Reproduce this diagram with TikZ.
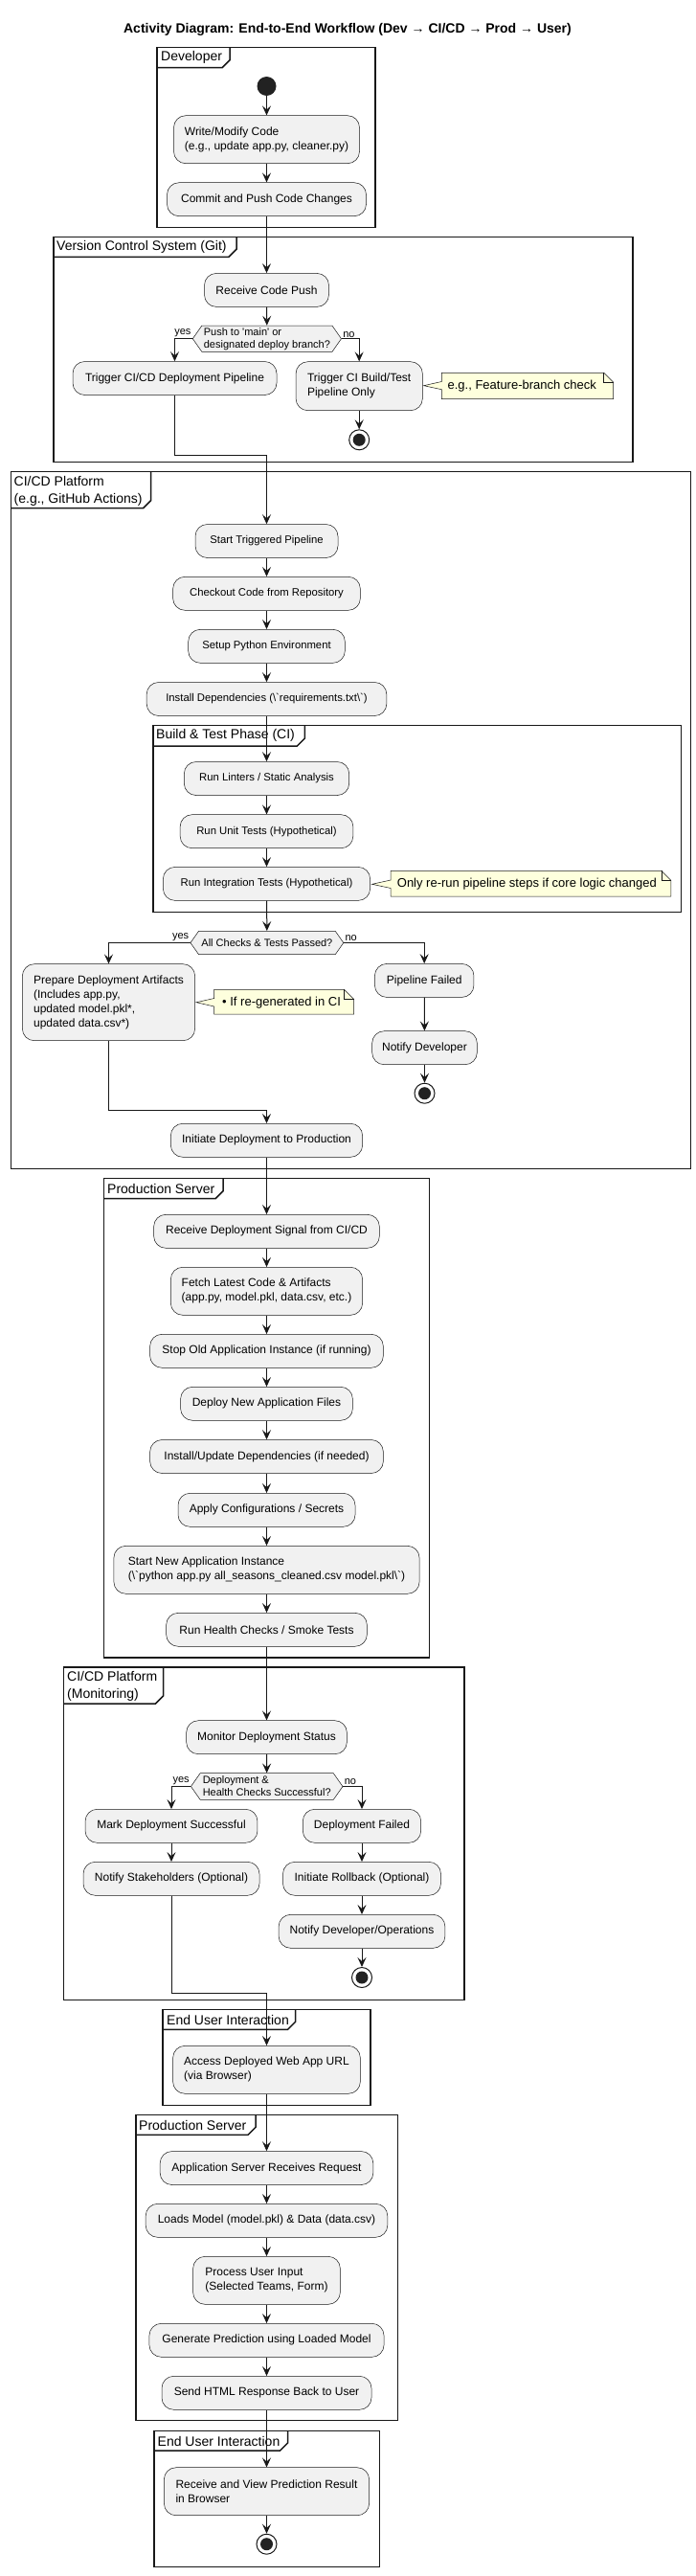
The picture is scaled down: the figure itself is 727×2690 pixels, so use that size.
\documentclass[tikz,border=0pt]{standalone}
\usepackage{fontspec}
\setmainfont{Liberation Sans}
\usetikzlibrary{arrows.meta,shapes.symbols}
\definecolor{boxfill}{HTML}{F1F1F1}
\definecolor{edge}{HTML}{181818}
\definecolor{notefill}{HTML}{FEFFDD}
\definecolor{dot}{HTML}{222222}
\begin{document}
\begin{tikzpicture}[x=1pt,y=-1pt,
    act/.style={draw=edge,line width=0.5,fill=boxfill,rounded corners=12.5,inner sep=0,
      minimum height=35,align=left,font=\fontsize{12}{15}\selectfont},
    actsm/.style={act,font=\fontsize{11.3}{14}\selectfont},
    decide/.style={shape=signal,signal to=west and east,signal pointer angle=110,draw=edge,
      line width=0.5,fill=boxfill,inner sep=0,align=left,font=\fontsize{11}{13}\selectfont},
    startpt/.style={circle,fill=dot,minimum size=20,inner sep=0},
    endpt/.style={circle,draw=edge,line width=1,fill=white,minimum size=21,inner sep=0,
      path picture={\fill[dot] (path picture bounding box.center) circle (6.5pt);}},
    frm/.style={draw=edge,line width=1.5},
    frmlbl/.style={anchor=west,inner sep=0,align=left,font=\fontsize{14}{18}\selectfont},
    notebox/.style={draw=edge,line width=0.5,fill=notefill},
    notetxt/.style={anchor=west,inner sep=0,font=\fontsize{13}{16}\selectfont},
    lbl/.style={inner sep=1,font=\fontsize{11}{13}\selectfont},
    flow/.style={draw=edge,line width=1,-{Stealth[length=10,width=9,inset=4]}}]
  \useasboundingbox (0,0) rectangle (727,2690);

  \node[font=\bfseries\fontsize{14}{17}\selectfont] (title) at (363,30.7)
    {Activity Diagram: End-to-End Workflow (Dev → CI/CD → Prod → User)};

  \draw[frm] (164,49.3) rectangle (392,237.3);
  \draw[frm] (164,70.7) -- (232,70.7) -- (240,62.7) -- (240,49.3);
  \node[frmlbl] (f1) at (168,60) {Developer};
  \draw[frm] (55.9,247.3) rectangle (660.8,482.7);
  \draw[frm] (55.9,268.3) -- (239,268.3) -- (247,260.3) -- (247,247.3);
  \node[frmlbl] (f2) at (59,258) {Version Control System (Git)};
  \draw[frm] (11.6,492.3) rectangle (721.3,1220.7);
  \draw[frm] (11.6,530.7) -- (149.5,530.7) -- (157.5,522.7) -- (157.5,492.3);
  \node[frmlbl] (f3) at (14.5,512.5) {CI/CD Platform\\(e.g., GitHub Actions)};
  \draw[frm] (159.8,757.3) rectangle (711.6,952.3);
  \draw[frm] (159.8,779) -- (310.3,779) -- (318.3,771) -- (318.3,757.3);
  \node[frmlbl] (f4) at (163,768) {Build \& Test Phase (CI)};
  \draw[frm] (108.6,1230.7) rectangle (448.7,1731);
  \draw[frm] (108.6,1251.7) -- (225,1251.7) -- (233,1243.7) -- (233,1230.7);
  \node[frmlbl] (f5) at (112,1241.5) {Production Server};
  \draw[frm] (66.6,1741) rectangle (485,2088.3);
  \draw[frm] (66.6,1779) -- (162.5,1779) -- (170.5,1771) -- (170.5,1741);
  \node[frmlbl] (f6) at (70,1761) {CI/CD Platform\\(Monitoring)};
  \draw[frm] (170,2098.3) rectangle (386.8,2198.3);
  \draw[frm] (170,2119.3) -- (300.5,2119.3) -- (308.5,2111.3) -- (308.5,2098.3);
  \node[frmlbl] (f7) at (174,2109) {End User Interaction};
  \draw[frm] (142.1,2208.3) rectangle (415.7,2527.7);
  \draw[frm] (142.1,2229.3) -- (259,2229.3) -- (267,2221.3) -- (267,2208.3);
  \node[frmlbl] (f8) at (145,2219) {Production Server};
  \draw[frm] (161.2,2538.3) rectangle (396.6,2680.7);
  \draw[frm] (161.2,2559) -- (292.6,2559) -- (300.6,2551) -- (300.6,2538.3);
  \node[frmlbl] (f9) at (164.5,2549) {End User Interaction};

  \node[startpt] (start) at (278.5,90) {};
  \node[act,minimum width=194,minimum height=50] (write) at (278.5,145.7)
    {Write/Modify Code\\(e.g., update app.py, cleaner.py)};
  \node[act,minimum width=208] (commit) at (278.5,208.2) {Commit and Push Code Changes};
  \node[act,minimum width=130] (recv) at (278.5,302.9) {Receive Code Push};
  \node[decide,minimum width=155.2,minimum height=27.3] (dec1) at (278.9,353.7)
    {Push to \textquotesingle main\textquotesingle{} or\\designated deploy branch?};
  \node[act,minimum width=213] (trigcd) at (182.5,395) {Trigger CI/CD Deployment Pipeline};
  \node[act,minimum width=132.3,minimum height=51] (trigci) at (375.2,403.2)
    {Trigger CI Build/Test\\Pipeline Only};
  \node[endpt] (end1) at (375.2,459.3) {};

  \node[actsm,minimum width=149] (pipe) at (278.5,565) {Start Triggered Pipeline};
  \node[actsm,minimum width=195.7] (checkout) at (278.5,619.8) {Checkout Code from Repository};
  \node[actsm,minimum width=163.6] (setup) at (278.5,674.8) {Setup Python Environment};
  \node[actsm,minimum width=250.7] (install) at (278.5,730)
    {Install Dependencies (\textbackslash\textasciigrave requirements.txt\textbackslash\textasciigrave)};
  \node[actsm,minimum width=172.4] (lint) at (278.5,813) {Run Linters / Static Analysis};
  \node[actsm,minimum width=180.7] (unit) at (278.5,868.2) {Run Unit Tests (Hypothetical)};
  \node[actsm,minimum width=216.3] (integ) at (278.5,922.9) {Run Integration Tests (Hypothetical)};
  \node[decide,minimum width=159.8,minimum height=24.4] (dec2) at (278.9,984.5)
    {All Checks \& Tests Passed?};
  \node[act,minimum width=180.3,minimum height=80] (prep) at (113.5,1046.7)
    {Prepare Deployment Artifacts\\(Includes app.py,\\updated model.pkl*,\\updated data.csv*)};
  \node[act,minimum width=103.5] (failed) at (443.2,1023.9) {Pipeline Failed};
  \node[act,minimum width=109.6] (notifydev) at (443.5,1094.2) {Notify Developer};
  \node[endpt] (end2) at (443.5,1141.7) {};
  \node[act,minimum width=200.3] (initiate) at (278.5,1190.8) {Initiate Deployment to Production};

  \node[act,minimum width=235.7] (rcvsig) at (278.5,1285.8) {Receive Deployment Signal from CI/CD};
  \node[act,minimum width=200.3,minimum height=50] (fetch) at (278.5,1348.3)
    {Fetch Latest Code \& Artifacts\\(app.py, model.pkl, data.csv, etc.)};
  \node[act,minimum width=243.7] (stop) at (278.5,1410.8) {Stop Old Application Instance (if running)};
  \node[act,minimum width=179.8] (deploy) at (278.5,1465.8) {Deploy New Application Files};
  \node[act,minimum width=243.7] (instupd) at (278.5,1521) {Install/Update Dependencies (if needed)};
  \node[act,minimum width=185] (apply) at (278.5,1576.8) {Apply Configurations / Secrets};
  \node[act,minimum width=319.2,minimum height=50] (startnew) at (278.5,1639.3)
    {Start New Application Instance\\(\textbackslash\textasciigrave python app.py all\_seasons\_cleaned.csv model.pkl\textbackslash\textasciigrave)};
  \node[act,minimum width=209.7] (health) at (278.5,1701.8) {Run Health Checks / Smoke Tests};

  \node[act,minimum width=167.7] (monitor) at (278.5,1814.2) {Monitor Deployment Status};
  \node[decide,minimum width=158.5,minimum height=27.6] (dec3) at (278.7,1865.5)
    {Deployment \&\\Health Checks Successful?};
  \node[act,minimum width=179.9] (mark) at (179,1906.8) {Mark Deployment Successful};
  \node[act,minimum width=123.4] (depfail) at (378,1906.8) {Deployment Failed};
  \node[act,minimum width=184] (stake) at (179,1961.8) {Notify Stakeholders (Optional)};
  \node[act,minimum width=165] (rollback) at (378,1961.8) {Initiate Rollback (Optional)};
  \node[act,minimum width=173.8] (notifyops) at (378,2016.8) {Notify Developer/Operations};
  \node[endpt] (end3) at (378,2065) {};

  \node[act,minimum width=195.7,minimum height=50] (access) at (278.5,2161.3)
    {Access Deployed Web App URL\\(via Browser)};
  \node[act,minimum width=222.7] (appsrv) at (278.5,2264) {Application Server Receives Request};
  \node[act,minimum width=252.6] (loads) at (278.5,2318.8) {Loads Model (model.pkl) \& Data (data.csv)};
  \node[act,minimum width=153.7,minimum height=50] (process) at (278.5,2381.3)
    {Process User Input\\(Selected Teams, Form)};
  \node[act,minimum width=245.1] (generate) at (278.5,2443.8) {Generate Prediction using Loaded Model};
  \node[act,minimum width=219] (send) at (278.5,2498.8) {Send HTML Response Back to User};
  \node[act,minimum width=214.3,minimum height=50] (result) at (278.5,2601.7)
    {Receive and View Prediction Result\\in Browser};
  \node[endpt] (end4) at (278.5,2656.7) {};

  \draw[notebox] (461.3,389.3) -- (630.7,389.3) -- (640.7,399.3) -- (640.7,416.7) -- (461.3,416.7)
    -- (461.3,406.7) -- (442.5,402.7) -- (461.3,398.5) -- cycle;
  \draw[notebox,fill=none] (630.7,389.3) -- (630.7,399.3) -- (640.7,399.3);
  \node[notetxt] (n1) at (467.4,403) {e.g., Feature-branch check};
  \draw[notebox] (408.2,909.3) -- (690.8,909.3) -- (700.8,919.3) -- (700.8,936) -- (408.2,936)
    -- (408.2,927.5) -- (388.5,923.3) -- (408.2,919) -- cycle;
  \draw[notebox,fill=none] (690.8,909.3) -- (690.8,919.3) -- (700.8,919.3);
  \node[notetxt] (n2) at (414.7,923) {Only re-run pipeline steps if core logic changed};
  \draw[notebox] (223.7,1033.3) -- (359.5,1033.3) -- (369.5,1043.3) -- (369.5,1059) -- (223.7,1059)
    -- (223.7,1051) -- (205,1046.7) -- (223.7,1042.5) -- cycle;
  \draw[notebox,fill=none] (359.5,1033.3) -- (359.5,1043.3) -- (369.5,1043.3);
  \node[notetxt] (n3) at (232,1047) {• If re-generated in CI};

  \coordinate (m1) at (278.5,475.7);
  \coordinate (m2) at (278.5,1159);
  \coordinate (m3) at (278.5,2081.7);

  \begin{scope}[flow]
    \draw (start) to (write);
    \draw (write) to (commit);
    \draw (commit) to (recv);
    \draw (recv) to (dec1);
    \draw (dec1.west) node[lbl,anchor=south east] (yes1) {yes} -| (trigcd);
    \draw (dec1.east) node[lbl,anchor=south west] (no1) {no} -| (trigci);
    \draw (trigci) to (end1);
    \draw (trigcd) |- (m1) to (pipe);
    \draw (pipe) to (checkout);
    \draw (checkout) to (setup);
    \draw (setup) to (install);
    \draw (install) to (lint);
    \draw (lint) to (unit);
    \draw (unit) to (integ);
    \draw (integ) to (dec2);
    \draw (dec2.west) node[lbl,anchor=south east] (yes2) {yes} -| (prep);
    \draw (dec2.east) node[lbl,anchor=south west] (no2) {no} -| (failed);
    \draw (failed) to (notifydev);
    \draw (notifydev) to (end2);
    \draw (prep) |- (m2) to (initiate);
    \draw (initiate) to (rcvsig);
    \draw (rcvsig) to (fetch);
    \draw (fetch) to (stop);
    \draw (stop) to (deploy);
    \draw (deploy) to (instupd);
    \draw (instupd) to (apply);
    \draw (apply) to (startnew);
    \draw (startnew) to (health);
    \draw (health) to (monitor);
    \draw (monitor) to (dec3);
    \draw (dec3.west) node[lbl,anchor=south east] (yes3) {yes} -| (mark);
    \draw (dec3.east) node[lbl,anchor=south west] (no3) {no} -| (depfail);
    \draw (mark) to (stake);
    \draw (depfail) to (rollback);
    \draw (rollback) to (notifyops);
    \draw (notifyops) to (end3);
    \draw (stake) |- (m3) to (access);
    \draw (access) to (appsrv);
    \draw (appsrv) to (loads);
    \draw (loads) to (process);
    \draw (process) to (generate);
    \draw (generate) to (send);
    \draw (send) to (result);
    \draw (result) to (end4);
  \end{scope}
\end{tikzpicture}
\end{document}
